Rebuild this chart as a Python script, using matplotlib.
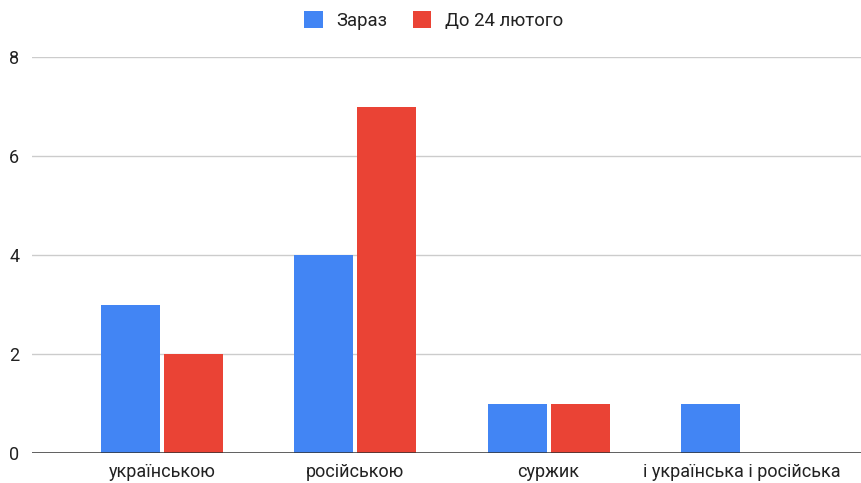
import matplotlib
matplotlib.use("Agg")
import matplotlib.pyplot as plt
import numpy as np
from matplotlib.patches import Patch

plt.rcParams['font.family'] = ['Roboto', 'DejaVu Sans']

categories = ["українською", "російською", "суржик", "і українська і російська"]
series_names = ["Зараз", "До 24 лютого"]
now_values = [3, 4, 1, 1]
before_values = [2, 7, 1, 0]
y_ticks = [0, 2, 4, 6, 8]

blue = "#4285F4"
red = "#EA4335"

fig = plt.figure(figsize=(8.62, 4.83), dpi=100)
ax = fig.add_axes([32 / 862, 30 / 483, 830 / 862, 396 / 483])

x = np.arange(len(categories))
bw = 0.305
off = 0.163
ax.bar(x - off, now_values, width=bw, color=blue, zorder=3)
ax.bar(x + off, before_values, width=bw, color=red, zorder=3)

ax.set_xlim(-0.672, 3.621)
ax.set_ylim(0, 8)
ax.set_yticks(y_ticks)
ax.set_yticklabels([str(v) for v in y_ticks])
ax.set_xticks(x)
ax.set_xticklabels(categories)
ax.tick_params(axis='both', length=0, labelsize=13, colors="#222222")
ax.tick_params(axis='x', pad=7)
ax.tick_params(axis='y', pad=9)

for s in ax.spines.values():
    s.set_visible(False)
ax.grid(axis='y', color="#cccccc", linewidth=1, zorder=0)
ax.axhline(0, color="#333333", linewidth=1.8, zorder=4)

handles = [Patch(facecolor=blue, label=series_names[0]),
           Patch(facecolor=red, label=series_names[1])]
fig.legend(handles=handles, loc='upper center', bbox_to_anchor=(0.503, 1.011),
           ncol=2, frameon=False, fontsize=13.3, handlelength=1.0,
           handleheight=1.0, handletextpad=0.72, columnspacing=1.4,
           labelcolor="#222222")

fig.savefig("out.png", dpi=100)
